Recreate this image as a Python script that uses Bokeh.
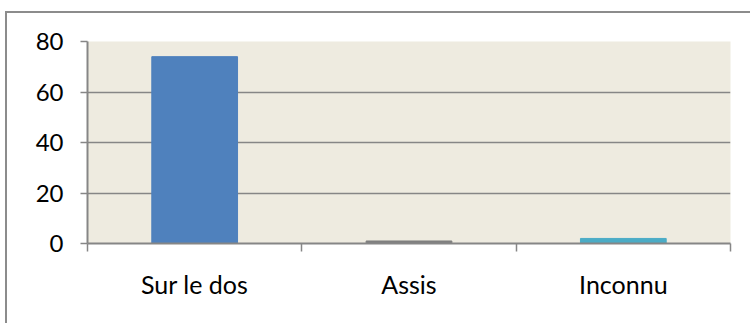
from bokeh.plotting import figure
from bokeh.models import Range1d, FixedTicker, ColumnDataSource
from bokeh.embed import file_html
from bokeh.resources import INLINE

categories = ["Sur le dos", "Assis", "Inconnu"]
values = [74, 1, 2]
colors = ["#4F81BD", "#7F7F7F", "#4BACC6"]
y_ticks = [0, 20, 40, 60, 80]

xpos = [i + 0.5 for i in range(len(categories))]
src = ColumnDataSource(dict(x=xpos, top=values, color=colors))

p = figure(width=745, height=312, output_backend="svg", toolbar_location=None,
           x_range=Range1d(0, len(categories)), y_range=Range1d(0, 80),
           min_border_left=80, min_border_right=22, min_border_top=28, min_border_bottom=82)
p.styles = {"border-top": "2px solid #8c8c8c", "border-left": "2px solid #8c8c8c",
            "margin-top": "11px", "margin-left": "5px"}
p.outline_line_color = None
p.background_fill_color = "#EEEBE0"
p.border_fill_color = "white"

p.vbar(x="x", top="top", width=0.4, color="color", source=src)

# x axis
p.xaxis.ticker = FixedTicker(ticks=xpos, minor_ticks=list(range(len(categories) + 1)))
p.xaxis.major_label_overrides = {x: c for x, c in zip(xpos, categories)}
p.xaxis.major_tick_line_color = None
p.xaxis.minor_tick_line_color = "#868686"
p.xaxis.minor_tick_line_width = 1.5
p.xaxis.minor_tick_out = 8
p.xaxis.minor_tick_in = 0
p.xaxis.axis_line_color = "#868686"
p.xaxis.axis_line_width = 2
p.xaxis.major_label_standoff = 17
p.xaxis.major_label_text_font = "Lato"
p.xaxis.major_label_text_font_size = "25px"
p.xaxis.major_label_text_color = "black"

# y axis
p.yaxis.ticker = FixedTicker(ticks=y_ticks)
p.yaxis.minor_tick_line_color = None
p.yaxis.major_tick_line_color = "#868686"
p.yaxis.major_tick_line_width = 1.5
p.yaxis.major_tick_out = 7
p.yaxis.major_tick_in = 0
p.yaxis.axis_line_color = "#868686"
p.yaxis.axis_line_width = 2
p.yaxis.major_label_standoff = 17
p.yaxis.major_label_text_font = "Lato"
p.yaxis.major_label_text_font_size = "24px"
p.yaxis.major_label_text_color = "black"

p.xgrid.grid_line_color = None
p.ygrid.ticker = FixedTicker(ticks=y_ticks[1:])
p.ygrid.grid_line_color = "#868686"
p.ygrid.grid_line_width = 1.5

open("out.html", "w").write(file_html(p, INLINE))
